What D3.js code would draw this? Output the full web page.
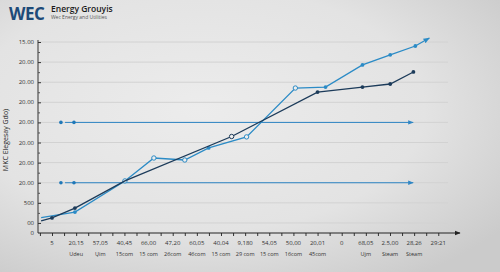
<!DOCTYPE html>
<html>
<head>
<meta charset="utf-8">
<script src="https://cdnjs.cloudflare.com/ajax/libs/d3/7.8.5/d3.min.js" charset="utf-8"></script>
<style>
body { margin: 0; background: #e2e2e2; }
text { font-family: "Open Sans", "DejaVu Sans", sans-serif; }
</style>
</head>
<body>

<div id="svg"></div>

<script>

// tick labels
var xLabels = ["5", "20,15", "57,05", "40,45", "66,00", "47,20", "60,05", "40,04", "9,180",
    "54,05", "50,00", "20,01", "0", "68,05", "2.5,00", "28,26", "29:21"];
var xSubLabels = ["", "Udeu", "Ųim", "15com", "15 com", "26com", "46com", "15 com", "29 com",
    "15 com", "16com", "45com", "", "Ujm", "Steam", "Steam", ""];
var yTicks = [0, 0.5, 1.5, 2.5, 3.5, 4.5, 5.5, 6.5, 7.5, 8.5, 9.5];
var yLabels = ["0", "00", "500", "20.00", "20.00", "20.00", "20.00", "20.00", "20.00", "20.00", "15.00"];

// dark series
var navyX = [-0.45, 0, 0.95, 3.02, 7.44, 11.0, 12.86, 14.01, 14.97];
var navyY = [0.6, 0.75, 1.24, 2.59, 4.8, 7.01, 7.26, 7.41, 8.01];
var navyMark = ["", "f", "f", "", "o", "f", "f", "f", "f"];

// light series
var lightX = [-0.45, 0.95, 3.02, 4.22, 5.5, 6.49, 8.06, 10.08, 11.33, 12.86, 14.01, 15.05, 15.63];
var lightY = [0.77, 1.04, 2.59, 3.73, 3.63, 4.23, 4.78, 7.21, 7.26, 8.36, 8.86, 9.3, 9.7];
var lightMark = ["", "f", "o", "o", "o", "f", "o", "o", "f", "f", "f", "f", ""];

// flat reference lines
var flatY = [5.5, 2.5];
var flatDots = [0.37, 0.91];
var flatStart = 0.54;
var flatEnd = 14.96;

var W = 500, H = 272;

var svg = d3.select("#svg")
    .append("svg")
    .attr("width", W)
    .attr("height", H);

var defs = svg.append("defs");

var bg = defs.append("radialGradient")
    .attr("id", "bg")
    .attr("cx", "40%").attr("cy", "40%").attr("r", "75%");
bg.append("stop").attr("offset", "0%").attr("stop-color", "#ececec");
bg.append("stop").attr("offset", "60%").attr("stop-color", "#e3e3e3");
bg.append("stop").attr("offset", "100%").attr("stop-color", "#cbcbcb");

function arrow(id, color, size) {
    defs.append("marker")
        .attr("id", id)
        .attr("viewBox", "0 0 10 10")
        .attr("refX", 9).attr("refY", 5)
        .attr("markerWidth", size).attr("markerHeight", size)
        .attr("markerUnits", "userSpaceOnUse")
        .attr("orient", "auto")
        .append("path")
        .attr("d", "M0,1 L10,5 L0,9 z")
        .attr("fill", color);
}
arrow("arAxis", "#222", 6);
arrow("arFlat", "#2f86c4", 5.5);
arrow("arLight", "#2b8bc6", 6.5);

svg.append("rect")
    .attr("width", W).attr("height", H)
    .attr("fill", "url(#bg)");

var x = d3.scaleLinear().domain([-0.58, 16.9]).range([38, 460]);
var y = d3.scaleLinear().domain([0, 9.5]).range([233, 42]);

// grid
svg.append("g")
    .selectAll("line")
    .data(yTicks.slice(1))
    .enter()
    .append("line")
    .attr("x1", 39).attr("x2", 448)
    .attr("y1", d => y(d)).attr("y2", d => y(d))
    .attr("stroke", "#d2d2d2")
    .attr("stroke-width", 1);

// y axis
var yAxis = d3.axisRight(y)
    .tickValues(yTicks.slice(1))
    .tickFormat("")
    .tickSize(3);
var yg = svg.append("g")
    .attr("transform", "translate(38,0)")
    .call(yAxis);
yg.select(".domain").attr("stroke", "#333").attr("d", "M0," + y(9.6) + "V" + y(0));
yg.selectAll(".tick line").attr("stroke", "#333");

svg.append("g")
    .attr("transform", "translate(38,0)")
    .call(d3.axisRight(y).tickValues(d3.range(1, 10)).tickFormat("").tickSize(2))
    .call(g => g.select(".domain").remove())
    .selectAll(".tick line").attr("stroke", "#555");

svg.append("g")
    .selectAll("text")
    .data(yTicks)
    .enter()
    .append("text")
    .attr("x", 34)
    .attr("y", d => y(d) + 2)
    .attr("text-anchor", "end")
    .attr("font-size", 6)
    .attr("fill", "#333")
    .text((d, i) => yLabels[i]);

// x axis
var xAxis = d3.axisBottom(x)
    .tickValues(d3.range(-0.5, 16.5, 0.5).filter(d => d > -0.55))
    .tickFormat("")
    .tickSize(3);
var xg = svg.append("g")
    .attr("transform", "translate(0," + y(0) + ")")
    .call(xAxis);
xg.select(".domain").remove();
xg.selectAll(".tick line").attr("stroke", "#333");

svg.append("line")
    .attr("x1", 38).attr("x2", 460)
    .attr("y1", y(0)).attr("y2", y(0))
    .attr("stroke", "#222")
    .attr("stroke-width", 1)
    .attr("marker-end", "url(#arAxis)");

svg.append("g")
    .selectAll("text")
    .data(xLabels)
    .enter()
    .append("text")
    .attr("x", (d, i) => x(i))
    .attr("y", 245)
    .attr("text-anchor", "middle")
    .attr("font-size", 6)
    .attr("fill", "#333")
    .text(d => d);

svg.append("g")
    .selectAll("text")
    .data(xSubLabels)
    .enter()
    .append("text")
    .attr("x", (d, i) => x(i))
    .attr("y", 256)
    .attr("text-anchor", "middle")
    .attr("font-size", 5.5)
    .attr("fill", "#333")
    .text(d => d);

// flat lines
flatY.forEach(function(v) {
    svg.append("line")
        .attr("x1", x(flatStart)).attr("x2", x(flatEnd))
        .attr("y1", y(v)).attr("y2", y(v))
        .attr("stroke", "#2f86c4")
        .attr("stroke-width", 1)
        .attr("marker-end", "url(#arFlat)");
    svg.append("g")
        .selectAll("circle")
        .data(flatDots)
        .enter()
        .append("circle")
        .attr("cx", d => x(d))
        .attr("cy", y(v))
        .attr("r", 1.8)
        .attr("fill", "#1f78b8");
});

var line = d3.line()
    .x(d => x(d[0]))
    .y(d => y(d[1]));

function series(xs, ys, marks, color, width, end) {
    var pts = xs.map((d, i) => [d, ys[i], marks[i]]);
    var p = svg.append("path")
        .datum(pts)
        .attr("d", line)
        .attr("fill", "none")
        .attr("stroke", color)
        .attr("stroke-width", width);
    if (end) p.attr("marker-end", end);
    svg.append("g")
        .selectAll("circle")
        .data(pts.filter(d => d[2] != ""))
        .enter()
        .append("circle")
        .attr("cx", d => x(d[0]))
        .attr("cy", d => y(d[1]))
        .attr("r", d => d[2] == "o" ? 2.2 : 1.9)
        .attr("fill", d => d[2] == "o" ? "#eeeeee" : color)
        .attr("stroke", color)
        .attr("stroke-width", d => d[2] == "o" ? 1 : 0);
}

series(lightX, lightY, lightMark, "#2b8bc6", 1.3, "url(#arLight)");
series(navyX, navyY, navyMark, "#1c3b5a", 1.3, null);

// titles
svg.append("text")
    .attr("x", 9).attr("y", 20)
    .attr("font-size", 17)
    .attr("font-weight", "bold")
    .attr("fill", "#1d4a78")
    .attr("letter-spacing", -0.5)
    .text("WEC");

svg.append("text")
    .attr("x", 51).attr("y", 12)
    .attr("font-size", 8.5)
    .attr("font-weight", 600)
    .attr("fill", "#1a1a1a")
    .text("Energy Grouyis");

svg.append("text")
    .attr("x", 51).attr("y", 18.5)
    .attr("font-size", 5)
    .attr("fill", "#555")
    .text("Wec Energy and Utilities");

svg.append("text")
    .attr("transform", "translate(8,140) rotate(-90)")
    .attr("text-anchor", "middle")
    .attr("font-size", 7)
    .attr("fill", "#222")
    .text("MKC  Elegesay Gdo)");

</script>

</body>
</html>
